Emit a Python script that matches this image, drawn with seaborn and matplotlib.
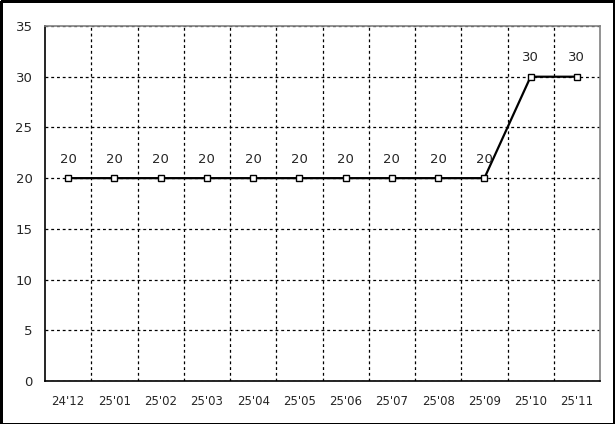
import matplotlib
matplotlib.use("Agg")
import matplotlib.pyplot as plt
import seaborn as sns
import pandas as pd
import numpy as np
from matplotlib.ticker import FixedLocator, MultipleLocator

months = ["24'12", "25'01", "25'02", "25'03", "25'04", "25'05",
          "25'06", "25'07", "25'08", "25'09", "25'10", "25'11"]
values = [20, 20, 20, 20, 20, 20, 20, 20, 20, 20, 30, 30]

df = pd.DataFrame({"month": months, "value": values})

sns.set_style("white")
plt.rcParams['font.family'] = ['DejaVu Sans']

fig = plt.figure(figsize=(6.15, 4.24), dpi=100)
ax = fig.add_axes([45/615, 43/424, 555/615, 355/424])

sns.lineplot(data=df, x="month", y="value", ax=ax, color="black", linewidth=1.6,
             marker="s", markersize=5, markerfacecolor="white",
             markeredgecolor="black", markeredgewidth=1, sort=False)

for i, v in enumerate(values):
    ax.annotate(str(v), (i, v), xytext=(0, 9), textcoords="offset points",
                ha="center", va="bottom", fontsize=9.5)

ax.set_xlim(-0.5, len(months) - 0.5)
ax.set_ylim(0, 35)
ax.yaxis.set_major_locator(MultipleLocator(5))
ax.xaxis.set_minor_locator(FixedLocator(np.arange(0.5, len(months) - 1, 1)))
ax.grid(True, which="minor", axis="x", color="black", linestyle=(0, (2.3, 2.3)), linewidth=0.9)
ax.grid(True, which="major", axis="y", color="black", linestyle=(0, (2.3, 2.3)), linewidth=0.9)
ax.grid(False, which="major", axis="x")
ax.set_xlabel("")
ax.set_ylabel("")
ax.tick_params(axis="both", which="both", length=0, labelsize=9.5)
ax.tick_params(axis="x", pad=10)
ax.tick_params(axis="y", pad=9)
for lbl in ax.get_xticklabels():
    lbl.set_fontsize(8.5)

for s in ["left", "bottom"]:
    ax.spines[s].set_color("black")
    ax.spines[s].set_linewidth(1.2)
for s in ["top", "right"]:
    ax.spines[s].set_color("#808080")
    ax.spines[s].set_linewidth(1.2)

fig.patches.append(plt.Rectangle((0.5/615, 0.5/424), 613.5/615, 422.5/424, transform=fig.transFigure,
                                 fill=False, edgecolor="black", linewidth=0.75,
                                 antialiased=False))

fig.savefig("out.png", dpi=100)
